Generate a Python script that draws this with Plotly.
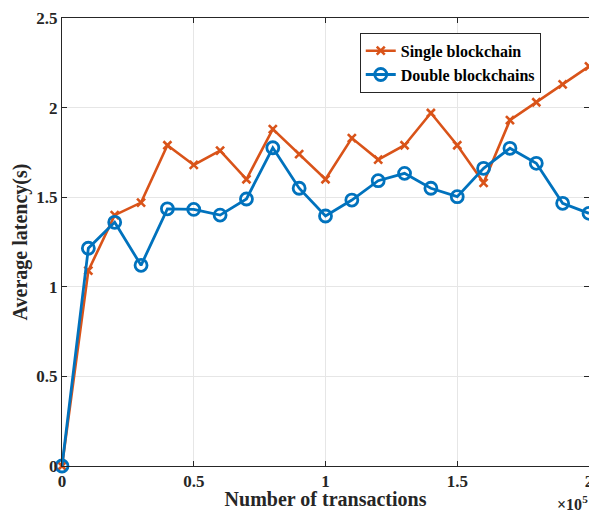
import plotly.graph_objects as go

transactions = [0, 10000, 20000, 30000, 40000, 50000, 60000, 70000, 80000, 90000, 100000,
                110000, 120000, 130000, 140000, 150000, 160000, 170000, 180000, 190000, 200000]
single_latency = [0, 1.09, 1.40, 1.47, 1.79, 1.68, 1.76, 1.60, 1.88, 1.74, 1.60,
                  1.83, 1.71, 1.79, 1.97, 1.79, 1.58, 1.93, 2.03, 2.13, 2.23]
double_latency = [0, 1.215, 1.36, 1.12, 1.435, 1.432, 1.40, 1.49, 1.776, 1.55, 1.395,
                  1.484, 1.592, 1.633, 1.55, 1.503, 1.661, 1.773, 1.689, 1.466, 1.41]
x_tickvals = [0, 50000, 100000, 150000, 200000]
x_ticktext = ["0", "0.5", "1", "1.5", "2"]
y_tickvals = [0, 0.5, 1, 1.5, 2, 2.5]
y_ticktext = ["0", "0.5", "1", "1.5", "2", "2.5"]

FONT = "Liberation Serif"
ORANGE = "#D95319"
BLUE = "#0072BD"

fig = go.Figure()
fig.add_trace(go.Scatter(
    x=transactions, y=single_latency, name="<b>Single blockchain</b>",
    mode="lines+markers", cliponaxis=False,
    line=dict(color=ORANGE, width=2.6),
    marker=dict(symbol="x-thin", size=8, line=dict(color=ORANGE, width=2.6)),
))
fig.add_trace(go.Scatter(
    x=transactions, y=double_latency, name="<b>Double blockchains</b>",
    mode="lines+markers", cliponaxis=False,
    line=dict(color=BLUE, width=2.8),
    marker=dict(symbol="circle-open", size=12, color=BLUE, line=dict(color=BLUE, width=2.8)),
))

axis_common = dict(
    showgrid=True, gridcolor="#E6E6E6", gridwidth=1,
    showline=True, linecolor="#262626", linewidth=1, mirror="ticks",
    ticks="inside", ticklen=5, tickcolor="#262626", tickwidth=1,
    zeroline=False, automargin=False, ticklabeloverflow="allow",
    tickfont=dict(family=FONT, size=17, color="#262626"),
)

# the page body has an 8px default margin, so the figure is sized to fit the window without scrolling
fig.update_layout(
    width=581, height=502,
    margin=dict(l=54, r=0, t=10, b=44),
    paper_bgcolor="white", plot_bgcolor="white",
    font=dict(family=FONT, color="#262626"),
    showlegend=True,
    legend=dict(
        x=0.565, y=0.967, xanchor="left", yanchor="top",
        bgcolor="white", bordercolor="#262626", borderwidth=1,
        font=dict(family=FONT, size=16, color="black"),
        tracegroupgap=0, itemwidth=30,
    ),
    xaxis=dict(
        range=[0, 200000], tickvals=x_tickvals, ticktext=["<b>%s</b>" % t for t in x_ticktext],
        title=dict(text="<b>Number of transactions</b>", font=dict(family=FONT, size=20, color="#262626"), standoff=11),
        **axis_common,
    ),
    yaxis=dict(
        range=[0, 2.5], tickvals=y_tickvals, ticktext=["<b>%s</b>" % t for t in y_ticktext],
        title=dict(text="<b>Average latency(s)</b>", font=dict(family=FONT, size=20, color="#262626"), standoff=3),
        **axis_common,
    ),
)

fig.add_annotation(
    x=1.0, y=-0.058, xref="paper", yref="paper", xanchor="right", yanchor="top",
    text="<b>×10<sup>5</sup></b>", showarrow=False, borderpad=0,
    font=dict(family=FONT, size=16, color="#262626"),
)

fig.write_html("out.html")
